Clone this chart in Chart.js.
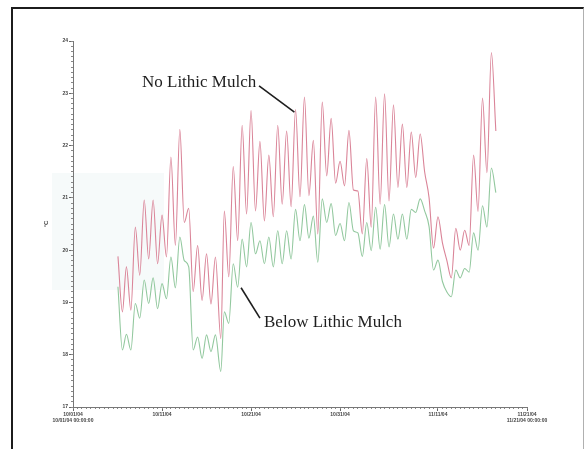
<!DOCTYPE html>
<html>
<head>
<meta charset="utf-8">
<script src="https://cdn.jsdelivr.net/npm/chart.js@4/dist/chart.umd.min.js"></script>
<style>
  body { margin: 0; background: #fff; }
  #wrap { position: relative; width: 585px; height: 449px; overflow: hidden; background: #fff; }
  #patch { position: absolute; left: 52px; top: 173px; width: 112px; height: 117px; background: #f6fafa; }
  #frame { position: absolute; left: 11px; top: 7px; width: 570px; height: 440px;
           border-top: 2px solid #1c1c1c; border-left: 2px solid #1c1c1c;
           border-right: 1px solid #b0b0b0; border-bottom: 1px solid #c8c8c8; }
  canvas { position: absolute; left: 0; top: 0; }
</style>
</head>
<body>
<div id="wrap">
  <div id="patch"></div>
  <div id="frame"></div>
  <canvas id="chart" width="585" height="449"></canvas>
</div>
<script>
// days since 10/01/04 00:00 (peaks near whole days, lows near half days)
let times = [
  5.05, 5.55, 6.0, 6.5, 7.0, 7.5, 8.0, 8.5, 9.0, 9.5,
  10.0, 10.5, 11.0, 11.5, 12.0, 12.5, 13.0, 13.5, 14.0, 14.5,
  15.0, 15.5, 16.0, 16.6, 17.0, 17.5, 18.0, 18.5, 19.0, 19.5,
  20.0, 20.5, 21.0, 21.5, 22.0, 22.5, 23.0, 23.5, 24.0, 24.5,
  25.0, 25.5, 26.0, 26.5, 27.0, 27.5, 28.0, 28.5, 29.0, 29.5,
  30.0, 30.5, 31.0, 31.5, 32.0, 32.5, 33.0, 33.5, 34.0, 34.5,
  35.0, 35.5, 36.0, 36.5, 37.0, 37.5, 38.0, 38.5, 39.0, 39.5,
  40.0, 40.5, 41.0, 41.5, 42.0, 42.5, 43.0, 43.5, 44.0, 44.5,
  45.0, 45.5, 46.0, 46.5, 47.0, 47.5
];

let noMulch = [
  19.88, 18.82, 19.68, 18.85, 20.44, 19.52, 20.96, 19.83, 20.96, 19.74,
  20.67, 19.87, 21.78, 20.09, 22.31, 20.53, 20.80, 19.21, 20.09, 19.04,
  19.93, 18.97, 19.87, 18.31, 20.75, 19.49, 21.60, 20.18, 22.39, 20.69,
  22.67, 20.75, 22.08, 20.56, 21.82, 20.64, 22.39, 20.88, 22.28, 20.83,
  22.69, 21.02, 22.93, 21.04, 22.10, 20.31, 22.83, 21.42, 22.52, 21.28,
  21.70, 21.23, 22.29, 21.15, 21.13, 20.31, 21.75, 20.44, 22.93, 20.88,
  22.99, 20.94, 22.78, 21.20, 22.41, 21.20, 22.26, 21.39, 22.22, 21.50,
  21.00, 20.04, 20.64, 20.14, 19.80, 19.47, 20.42, 20.00, 20.38, 20.09,
  21.82, 20.74, 22.91, 21.48, 23.78, 22.28
];

let belowMulch = [
  19.30, 18.09, 18.39, 18.09, 18.98, 18.70, 19.43, 18.98, 19.47, 18.88,
  19.36, 19.07, 19.87, 19.28, 20.25, 19.80, 19.68, 18.09, 18.34, 17.93,
  18.38, 18.06, 18.38, 17.68, 18.82, 18.60, 19.74, 19.29, 20.21, 19.68,
  20.53, 19.93, 20.18, 19.74, 20.25, 19.68, 20.37, 19.74, 20.37, 19.83,
  20.78, 20.18, 20.87, 20.23, 20.65, 19.77, 20.98, 20.53, 20.89, 20.28,
  20.51, 20.18, 20.91, 20.37, 20.33, 19.88, 20.53, 19.99, 20.82, 20.02,
  20.87, 20.06, 20.69, 20.21, 20.69, 20.21, 20.78, 20.72, 20.98, 20.75,
  20.45, 19.62, 19.81, 19.40, 19.20, 19.11, 19.62, 19.47, 19.65, 19.58,
  20.33, 20.00, 20.85, 20.44, 21.57, 21.10
];

let xTickDays = [0, 10, 20, 30, 41, 51];
let xTickLabels = [
  ["10/01/04", "10/01/04 00:00:00"],
  "10/11/04",
  "10/21/04",
  "10/31/04",
  "11/11/04",
  ["11/21/04", "11/21/04 00:00:00"]
];

let seriesNames = ["No Lithic Mulch", "Below Lithic Mulch"];

// label text + leader line, placed in data coordinates
let notes = [
  { text: seriesNames[0], x: 7.75, y: 23.20, from: [20.9, 23.14], to: [24.87, 22.64] },
  { text: seriesNames[1], x: 21.46, y: 18.61, from: [18.88, 19.28], to: [21.0, 18.70] }
];

let tickFont = { family: "Arial, 'Liberation Sans', sans-serif", size: 5, weight: "bold" };

let notesPlugin = {
  id: "notes",
  afterDatasetsDraw(chart) {
    let ctx = chart.ctx;
    let xs = chart.scales.x;
    let ys = chart.scales.y;
    ctx.save();
    ctx.font = "17px 'Liberation Serif', 'Times New Roman', serif";
    ctx.fillStyle = "#1e1e1e";
    ctx.strokeStyle = "#1e1e1e";
    ctx.lineWidth = 1.6;
    ctx.textBaseline = "middle";
    ctx.textAlign = "left";
    notes.forEach(n => {
      ctx.fillText(n.text, xs.getPixelForValue(n.x), ys.getPixelForValue(n.y));
      ctx.beginPath();
      ctx.moveTo(xs.getPixelForValue(n.from[0]), ys.getPixelForValue(n.from[1]));
      ctx.lineTo(xs.getPixelForValue(n.to[0]), ys.getPixelForValue(n.to[1]));
      ctx.stroke();
    });
    ctx.restore();
  }
};

function toPoints(values) {
  return values.map((v, i) => ({ x: times[i], y: v }));
}

new Chart(document.getElementById("chart").getContext("2d"), {
  type: "line",
  data: {
    datasets: [{
      label: seriesNames[0],
      data: toPoints(noMulch),
      borderColor: "rgb(218, 132, 152)",
      borderWidth: 1.1,
      pointRadius: 0,
      fill: false,
      cubicInterpolationMode: "monotone"
    }, {
      label: seriesNames[1],
      data: toPoints(belowMulch),
      borderColor: "rgb(146, 200, 158)",
      borderWidth: 1.1,
      pointRadius: 0,
      fill: false,
      cubicInterpolationMode: "monotone"
    }]
  },
  options: {
    responsive: false,
    animation: false,
    layout: { padding: { left: 43, top: 41, right: 58, bottom: 12 } },
    plugins: { legend: { display: false }, tooltip: { enabled: false } },
    scales: {
      x: {
        type: "linear",
        min: 0,
        max: 51,
        weight: 0,
        afterBuildTicks: axis => { axis.ticks = xTickDays.map(v => ({ value: v })); },
        afterFit: axis => { axis.height = 30; },
        ticks: {
          autoSkip: false,
          maxRotation: 0,
          padding: 1,
          color: "#444",
          font: tickFont,
          callback: value => xTickLabels[xTickDays.indexOf(value)]
        },
        grid: { drawOnChartArea: false, tickLength: 4, color: "#666" },
        border: { color: "#777", width: 1 }
      },
      xMinor: {
        type: "linear",
        position: "bottom",
        min: 0,
        max: 51,
        weight: -1,
        afterFit: axis => { axis.height = 0; },
        ticks: { display: false, autoSkip: false, stepSize: 0.5 },
        grid: { drawOnChartArea: false, tickLength: 2, color: "#888" },
        border: { display: false }
      },
      y: {
        min: 17,
        max: 24,
        weight: 0,
        afterFit: axis => { axis.width = 30; },
        ticks: { stepSize: 1, padding: 1, color: "#444", font: tickFont },
        title: { display: true, text: "°C", color: "#444", font: { family: "Arial, sans-serif", size: 6, weight: "bold" }, padding: 0 },
        grid: { drawOnChartArea: false, tickLength: 4, color: "#666" },
        border: { color: "#777", width: 1 }
      },
      yMinor: {
        type: "linear",
        position: "left",
        min: 17,
        max: 24,
        weight: -1,
        afterFit: axis => { axis.width = 0; },
        ticks: { display: false, autoSkip: false, stepSize: 0.1 },
        grid: { drawOnChartArea: false, tickLength: 2, color: "#888" },
        border: { display: false }
      }
    }
  },
  plugins: [notesPlugin]
});
</script>
</body>
</html>
